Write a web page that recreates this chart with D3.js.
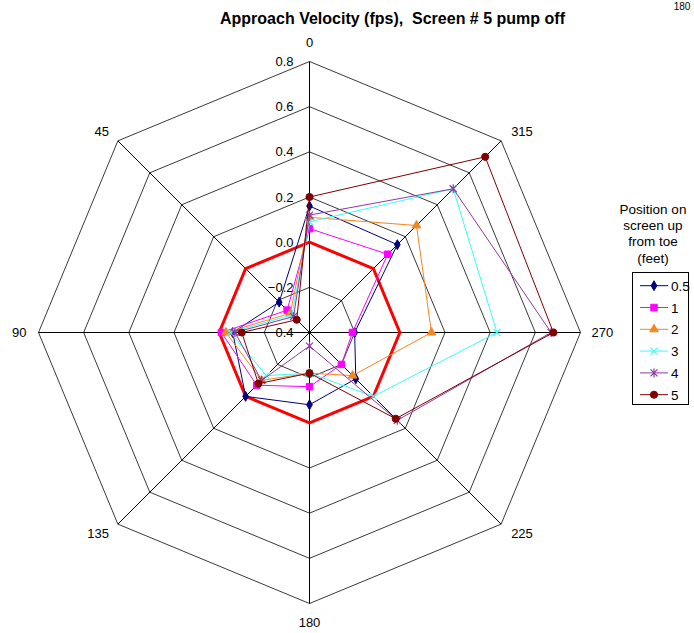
<!DOCTYPE html>
<html><head><meta charset="utf-8">
<script src="https://cdn.jsdelivr.net/npm/d3@7"></script>
<style>
html,body{margin:0;padding:0;background:#fff;}
text{font-family:Arial,"Liberation Sans",sans-serif;fill:#000;}
</style></head>
<body>
<svg id="chart" width="694" height="633"></svg>
<script>
// ---- data ----
const categories = ["0","315","270","225","180","135","90","45"];
const seriesNames = ["0.5","1","2","3","4","5"];
const s05 = [0.16, 0.15, -0.20, -0.11, -0.08, 0.00, -0.06, -0.21];
const s1  = [0.06, 0.09, -0.21, -0.20, -0.16, -0.07, -0.01, -0.26];
const s2  = [0.11, 0.27, 0.14, -0.13, -0.22, -0.10, -0.03, -0.28];
const s3  = [0.09, 0.50, 0.43, 0.00, -0.22, -0.13, -0.05, -0.29];
const s4  = [0.12, 0.50, 0.67, 0.15, -0.34, -0.10, -0.07, -0.30];
const s5  = [0.20, 0.70, 0.68, 0.14, -0.22, -0.08, -0.10, -0.32];
const zeroLine = [0, 0, 0, 0, 0, 0, 0, 0];
const tickValues = [-0.4, -0.2, 0.0, 0.2, 0.4, 0.6, 0.8];
const titleText = "Approach Velocity (fps),\u00A0 Screen # 5 pump off";
const legendTitle = ["Position on", "screen up", "from toe", "(feet)"];

const seriesData = [s05, s1, s2, s3, s4, s5];
const colors = ["#000080", "#FF00FF", "#F7851F", "#33FFFF", "#8E3A9E", "#800000"];
const markers = ["diamond", "square", "triangle", "x", "star", "circle"];

// ---- layout ----
const svg = d3.select("#chart");
const cx = 309.5, cy = 332.5, R = 271;
const r = d3.scaleLinear().domain([-0.4, 0.8]).range([0, R]);
const ang = d3.scalePoint().domain(categories).range([0, 2 * Math.PI * 7 / 8]);
const g = svg.append("g").attr("transform", `translate(${cx},${cy})`);

function pt(cat, v) {
  const a = ang(cat), rr = r(v);
  return [rr * Math.sin(a), -rr * Math.cos(a)];
}

// grid rings
const ring = d3.lineRadial().angle(d => ang(d.c)).radius(d => r(d.v)).curve(d3.curveLinearClosed);
tickValues.slice(1).forEach(t => {
  g.append("path").attr("d", ring(categories.map(c => ({c, v: t}))))
    .attr("fill", "none").attr("stroke", "#3a3a3a").attr("stroke-width", 1);
});
// spokes
categories.forEach(c => {
  const [x, y] = pt(c, 0.8);
  g.append("line").attr("x1", 0).attr("y1", 0).attr("x2", x).attr("y2", y)
    .attr("stroke", "#000").attr("stroke-width", 1);
});

// tick labels
g.selectAll("text.tick").data(tickValues).enter().append("text")
  .attr("x", -16).attr("y", d => -r(d) + 4.5)
  .attr("text-anchor", "end").style("font-size", "13px")
  .text(d => d3.format(".1f")(d));

// category labels
categories.forEach(c => {
  const a = ang(c);
  const vx = R * Math.sin(a), vy = -R * Math.cos(a);
  const sx = Math.round(Math.sin(a) * 1000) / 1000, sy = Math.round(-Math.cos(a) * 1000) / 1000;
  let x = vx, y = vy, anchor = "middle";
  if (sx === 0) { y = vy + (sy < 0 ? -19 : 19); }
  else if (sy === 0) { x = vx + (sx > 0 ? 11 : -12); anchor = sx > 0 ? "start" : "end"; }
  else { x = vx + (sx > 0 ? 10 : -9); y = vy + (sy < 0 ? -9 : 9); anchor = sx > 0 ? "start" : "end"; }
  g.append("text").attr("x", x).attr("y", y + 4.5).attr("text-anchor", anchor)
    .style("font-size", "13px").text(c);
});

// zero reference (thick red)
g.append("path").attr("d", ring(categories.map((c, i) => ({c, v: zeroLine[i]}))))
  .attr("fill", "none").attr("stroke", "#FF0000").attr("stroke-width", 3).attr("stroke-linejoin", "miter");

// markers
function drawMarker(sel, type, color) {
  if (type === "diamond") sel.append("path").attr("d", d3.symbol(d3.symbolDiamond, 28)()).attr("fill", color).attr("stroke", color);
  else if (type === "square") sel.append("path").attr("d", d3.symbol(d3.symbolSquare, 42)()).attr("fill", color).attr("stroke", color);
  else if (type === "triangle") sel.append("path").attr("d", d3.symbol(d3.symbolTriangle, 32)()).attr("fill", color).attr("stroke", color);
  else if (type === "circle") sel.append("path").attr("d", d3.symbol(d3.symbolCircle, 40)()).attr("fill", color).attr("stroke", color);
  else if (type === "x") sel.append("path").attr("d", "M-3.5,-3.5L3.5,3.5M-3.5,3.5L3.5,-3.5").attr("stroke", color).attr("stroke-width", 1.2).attr("fill", "none");
  else if (type === "star") sel.append("path").attr("d", "M-3.5,-3.5L3.5,3.5M-3.5,3.5L3.5,-3.5M0,-4.5L0,4.5").attr("stroke", color).attr("stroke-width", 1.2).attr("fill", "none");
}

seriesData.forEach((vals, si) => {
  const pts = categories.map((c, i) => ({c, v: vals[i]}));
  g.append("path").attr("d", ring(pts)).attr("fill", "none")
    .attr("stroke", colors[si]).attr("stroke-width", 1);
  pts.forEach(p => {
    const [x, y] = pt(p.c, p.v);
    const m = g.append("g").attr("transform", `translate(${x},${y})`);
    drawMarker(m, markers[si], colors[si]);
  });
});

// title
svg.append("text").attr("x", 392.5).attr("y", 24).attr("text-anchor", "middle")
  .style("font-size", "16px").style("font-weight", "bold").text(titleText);
// stray label at top-right corner
svg.append("text").attr("x", 682).attr("y", 10).attr("text-anchor", "middle")
  .style("font-size", "10px").text("180");

// legend
const lx = 653;
legendTitle.forEach((t, i) => {
  svg.append("text").attr("x", lx).attr("y", 213.5 + i * 16.4).attr("text-anchor", "middle")
    .style("font-size", "13.5px").text(t);
});
svg.append("rect").attr("x", 632.5).attr("y", 272.5).attr("width", 56).attr("height", 132)
  .attr("fill", "#fff").attr("stroke", "#000").attr("stroke-width", 1);
seriesNames.forEach((n, i) => {
  const y = 285.7 + i * 21.8;
  svg.append("line").attr("x1", 640).attr("x2", 668).attr("y1", y).attr("y2", y)
    .attr("stroke", colors[i]).attr("stroke-width", 1);
  const m = svg.append("g").attr("transform", `translate(654,${y})`);
  drawMarker(m, markers[i], colors[i]);
  svg.append("text").attr("x", 671).attr("y", y + 5).style("font-size", "13.5px").text(n);
});
</script>
</body></html>
